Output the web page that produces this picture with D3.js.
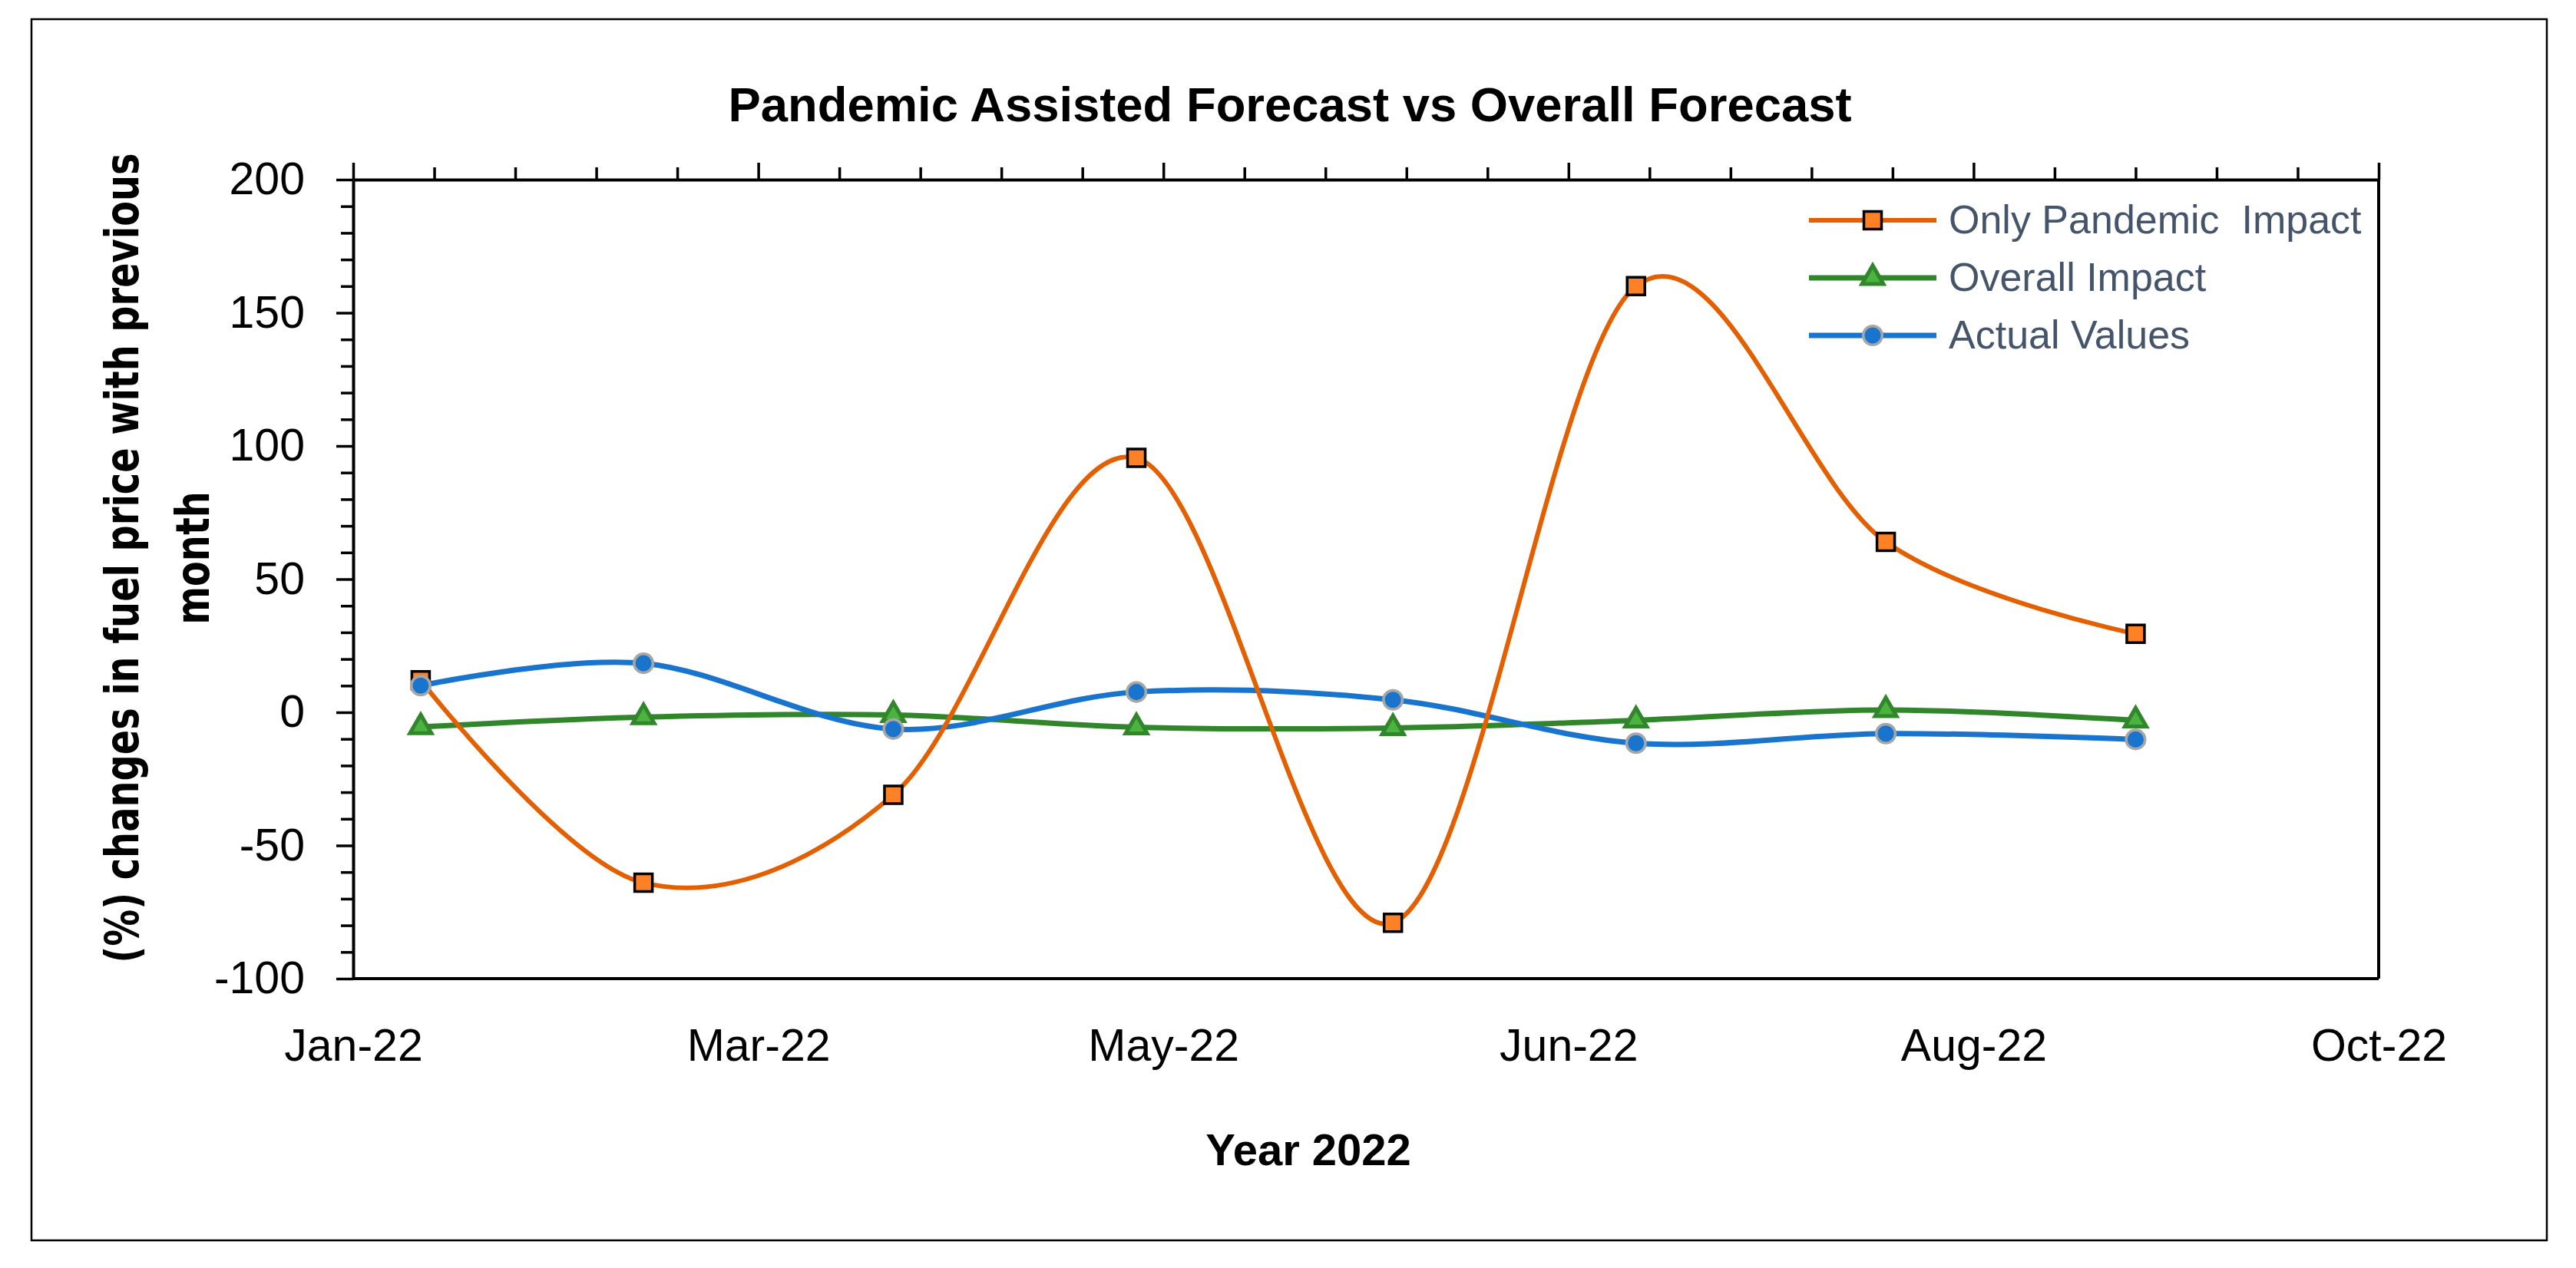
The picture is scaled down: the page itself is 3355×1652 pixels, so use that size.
<!DOCTYPE html>
<html>
<head>
<meta charset="utf-8">
<script src="https://cdn.jsdelivr.net/npm/d3@7/dist/d3.min.js"></script>
<style>
  html, body { margin: 0; padding: 0; background: #ffffff; }
  svg { display: block; }
</style>
</head>
<body>
<svg id="chart" width="3355" height="1652"></svg>
<script>
// ---------------- DATA ----------------
const dates = ["2022-01-11", "2022-02-13", "2022-03-22", "2022-04-27", "2022-06-04", "2022-07-10", "2022-08-16", "2022-09-22"];
const onlyPandemic = [12, -64, -31, 95.5, -79, 160, 64, 29.5];
const overallImpact = [-5.5, -1.8, -1, -5.6, -5.9, -3, 0.9, -3];
const actualValues = [10, 18.4, -6.3, 7.6, 4.7, -11.6, -8, -10.2];
const seriesNames = ["Only Pandemic  Impact", "Overall Impact", "Actual Values"];
const xTickDates = ["2022-01-01", "2022-03-02", "2022-05-01", "2022-06-30", "2022-08-29", "2022-10-28"];
const yTicks = [-100, -50, 0, 50, 100, 150, 200];
const titleText = "Pandemic Assisted Forecast vs Overall Forecast";
const xTitle = "Year 2022";
const yTitleLines = ["(%) changes in fuel price with previous", "month"];

// ---------------- LAYOUT ----------------
const W = 3355, H = 1652;
const plot = { left: 460, right: 3098, top: 234, bottom: 1275 };
const parse = d3.utcParse("%Y-%m-%d");
const fmt = d3.utcFormat("%b-%y");

const svg = d3.select("#chart");
svg.append("rect").attr("x", 0).attr("y", 0).attr("width", W).attr("height", H).attr("fill", "#fff");
// outer chart border
svg.append("rect").attr("x", 41).attr("y", 25).attr("width", 3317 - 41).attr("height", 1616 - 25)
  .attr("fill", "none").attr("stroke", "#000").attr("stroke-width", 2.5);

const x = d3.scaleUtc()
  .domain([parse(xTickDates[0]), parse(xTickDates[xTickDates.length - 1])])
  .range([plot.left, plot.right]);
const y = d3.scaleLinear().domain([-100, 200]).range([plot.bottom, plot.top]);

const tickFont = "'Liberation Sans', Arial, sans-serif";

// plot frame: bottom & right lines
svg.append("line").attr("x1", plot.left).attr("x2", plot.right).attr("y1", plot.bottom).attr("y2", plot.bottom)
  .attr("stroke", "#000").attr("stroke-width", 4);
svg.append("line").attr("x1", plot.right).attr("x2", plot.right).attr("y1", plot.top).attr("y2", plot.bottom)
  .attr("stroke", "#000").attr("stroke-width", 4);

// minor y ticks
const yMinor = d3.range(-100, 201, 10).filter(v => v % 50 !== 0);
svg.append("g").attr("transform", `translate(${plot.left},0)`)
  .call(d3.axisLeft(y).tickValues(yMinor).tickSize(16).tickFormat(""))
  .call(g => g.select(".domain").remove())
  .call(g => g.selectAll("line").attr("stroke", "#000").attr("stroke-width", 3.5));

// major y axis
svg.append("g").attr("transform", `translate(${plot.left},0)`)
  .call(d3.axisLeft(y).tickValues(yTicks).tickSize(22).tickPadding(41).tickSizeOuter(0)
    .tickFormat(d => String(d)))
  .call(g => g.select(".domain").attr("stroke", "#000").attr("stroke-width", 4))
  .call(g => g.selectAll("line").attr("stroke", "#000").attr("stroke-width", 3.5))
  .call(g => g.selectAll("text").attr("font-family", tickFont).attr("font-size", 59).attr("fill", "#000"));

// top x axis with ticks (minor every 12 days, major every 60 days)
const d0 = parse(xTickDates[0]);
const xMinor = d3.range(0, 301, 12).filter(d => d % 60 !== 0).map(d => d3.utcDay.offset(d0, d));
svg.append("g").attr("transform", `translate(0,${plot.top})`)
  .call(d3.axisTop(x).tickValues(xMinor).tickSize(16).tickFormat(""))
  .call(g => g.select(".domain").remove())
  .call(g => g.selectAll("line").attr("stroke", "#000").attr("stroke-width", 3.5));
svg.append("g").attr("transform", `translate(0,${plot.top})`)
  .call(d3.axisTop(x).tickValues(xTickDates.map(parse)).tickSize(22).tickFormat("").tickSizeOuter(0))
  .call(g => g.select(".domain").attr("stroke", "#000").attr("stroke-width", 4))
  .call(g => g.selectAll("line").attr("stroke", "#000").attr("stroke-width", 3.5));

// bottom x labels
svg.append("g").attr("transform", `translate(0,${plot.bottom})`)
  .call(d3.axisBottom(x).tickValues(xTickDates.map(parse)).tickSize(0).tickPadding(0).tickFormat(fmt))
  .call(g => g.select(".domain").remove())
  .call(g => g.selectAll("text").attr("font-family", tickFont).attr("font-size", 59).attr("fill", "#000")
    .attr("dy", null).attr("y", 107));

// ---------------- SERIES ----------------
const pts = vals => vals.map((v, i) => [x(parse(dates[i])), y(v)]);
const line = d3.line().curve(d3.curveCatmullRom.alpha(0));

const colors = {
  orange: "#E35F00", orangeFill: "#FF8126",
  green: "#31862C", greenFill: "#4BB43F",
  blue: "#1874CD", blueStroke: "#A6A6A6"
};

const gLines = svg.append("g");
gLines.append("path").attr("d", line(pts(overallImpact))).attr("fill", "none")
  .attr("stroke", colors.green).attr("stroke-width", 7);
gLines.append("path").attr("d", line(pts(actualValues))).attr("fill", "none")
  .attr("stroke", colors.blue).attr("stroke-width", 7);
gLines.append("path").attr("d", line(pts(onlyPandemic))).attr("fill", "none")
  .attr("stroke", colors.orange).attr("stroke-width", 6);

const sq = d3.symbol().type(d3.symbolSquare).size(23 * 23);
const tri = d3.symbol().type(d3.symbolTriangle).size(340);

function drawSquare(g, cx, cy) {
  g.append("path").attr("d", sq()).attr("transform", `translate(${cx},${cy})`)
    .attr("fill", colors.orangeFill).attr("stroke", "#000").attr("stroke-width", 3.5);
}
function drawTri(g, cx, cy) {
  g.append("path").attr("d", tri()).attr("transform", `translate(${cx},${cy})`)
    .attr("fill", colors.greenFill).attr("stroke", colors.green).attr("stroke-width", 5).attr("stroke-linejoin", "miter");
}
function drawCircle(g, cx, cy) {
  g.append("circle").attr("cx", cx).attr("cy", cy).attr("r", 12.3)
    .attr("fill", colors.blue).attr("stroke", colors.blueStroke).attr("stroke-width", 3.5);
}

const gMarks = svg.append("g");
pts(onlyPandemic).forEach(p => drawSquare(gMarks, p[0], p[1]));
pts(overallImpact).forEach(p => drawTri(gMarks, p[0], p[1]));
pts(actualValues).forEach(p => drawCircle(gMarks, p[0], p[1]));

// ---------------- LEGEND ----------------
const legendRows = [287, 362, 437];
const legendColors = [colors.orange, colors.green, colors.blue];
const legendWidths = [6, 7, 7];
const drawers = [drawSquare, drawTri, drawCircle];
const gLeg = svg.append("g");
seriesNames.forEach((name, i) => {
  const cy = legendRows[i];
  gLeg.append("line").attr("x1", 2356).attr("x2", 2522).attr("y1", cy).attr("y2", cy)
    .attr("stroke", legendColors[i]).attr("stroke-width", legendWidths[i]);
  drawers[i](gLeg, 2439, cy);
  gLeg.append("text").attr("x", 2538).attr("y", cy + 17).text(name)
    .attr("font-family", tickFont).attr("font-size", 52).attr("fill", "#44546A")
    .attr("xml:space", "preserve").style("white-space", "pre");
});

// ---------------- TITLES ----------------
const title = svg.append("text").attr("x", 1680).attr("y", 158).attr("text-anchor", "middle")
  .attr("font-family", tickFont).attr("font-weight", "bold").attr("font-size", 63).attr("fill", "#000")
  .text(titleText);
const tw = title.node().getComputedTextLength();
if (Math.abs(tw - 1463) > 4) title.attr("textLength", 1463).attr("lengthAdjust", "spacingAndGlyphs");

svg.append("text").attr("x", 1704).attr("y", 1518).attr("text-anchor", "middle")
  .attr("font-family", tickFont).attr("font-weight", "bold").attr("font-size", 58).attr("fill", "#000")
  .text(xTitle);

// y title: two rotated lines, horizontally compressed via a scale transform
const yBase = [180, 272];
const probe = svg.append("text")
  .attr("font-family", "'DejaVu Sans', Verdana, sans-serif").attr("font-weight", "bold")
  .attr("font-size", 60).text(yTitleLines[0]);
const ratio = Math.min(1, 1055 / probe.node().getComputedTextLength());
probe.remove();
yTitleLines.forEach((t, i) => {
  svg.append("text").attr("transform", `translate(${yBase[i]},727) rotate(-90) scale(${ratio},1)`)
    .attr("text-anchor", "middle")
    .attr("font-family", "'DejaVu Sans', Verdana, sans-serif").attr("font-weight", "bold")
    .attr("font-size", 60).attr("fill", "#000").text(t);
});
</script>
</body>
</html>
